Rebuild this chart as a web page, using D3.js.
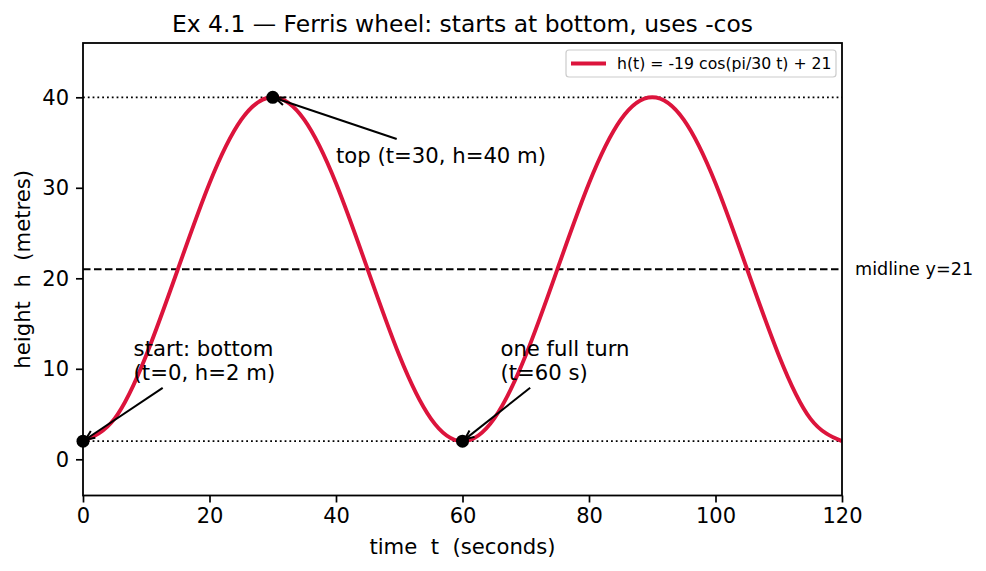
<!DOCTYPE html>
<html>
<head>
<meta charset="utf-8">
<script src="https://cdn.jsdelivr.net/npm/d3@7"></script>
<style>
  body { margin: 0; background: #fff; }
  svg text { font-family: "DejaVu Sans", sans-serif; fill: #000; white-space: pre; }
</style>
</head>
<body>
<svg id="chart" width="986" height="571"></svg>
<script>
// values, every 5 seconds
var times = [0,5,10,15,20,25,30,35,40,45,50,55,60,65,70,75,80,85,90,95,100,105,110,115,120];
var heights = [2,4.5,11.5,21,30.5,37.5,40,37.5,30.5,21,11.5,4.5,2,4.5,11.5,21,30.5,37.5,40,37.5,30.5,21,11.5,4.5,2];
var xTicks = [0,20,40,60,80,100,120];
var yTicks = [0,10,20,30,40];
var keyPoints = [[0,2],[30,40],[60,2]];
var refLines = [40, 2];
var midline = 21;
var notes = [
  {lines: ["top (t=30, h=40 m)"], text: [40,33], tail: [49.6,35.4], head: [30,40]},
  {lines: ["start: bottom", "(t=0, h=2 m)"], text: [8,9], tail: [12.6,7.9], head: [0,2]},
  {lines: ["one full turn", "(t=60 s)"], text: [66,9], tail: [70.7,7.9], head: [60,2]}
];

var svg = d3.select("#chart");
var pLeft = 83, pRight = 842, pTop = 43, pBottom = 495.5;

var x = d3.scaleLinear().domain([0,120]).range([pLeft,pRight]);
var y = d3.scaleLinear().domain([-4,46]).range([pBottom,pTop]);

svg.append("clipPath").attr("id","clip")
    .append("rect").attr("x",pLeft).attr("y",pTop).attr("width",pRight-pLeft).attr("height",pBottom-pTop);

var plot = svg.append("g").attr("clip-path","url(#clip)");

// dotted reference lines at top and bottom
plot.selectAll(".ref").data(refLines).enter().append("line")
    .attr("x1",x(0)).attr("x2",x(120))
    .attr("y1",function(d){return y(d);}).attr("y2",function(d){return y(d);})
    .attr("stroke","#000").attr("stroke-width",1.8).attr("stroke-dasharray","1.8,3");

//midline
plot.append("line")
    .attr("x1",x(0)).attr("x2",x(120))
    .attr("y1",y(midline)).attr("y2",y(midline))
    .attr("stroke","#000").attr("stroke-width",2).attr("stroke-dasharray","7.5,3.5");

var line = d3.line()
    .x(function(d,i){return x(times[i]);})
    .y(function(d){return y(d);})
    .curve(d3.curveNatural);

plot.append("path").datum(heights)
    .attr("d",line)
    .attr("fill","none").attr("stroke","#dc143c").attr("stroke-width",3.9);

//markers
svg.selectAll(".pt").data(keyPoints).enter().append("circle")
    .attr("cx",function(d){return x(d[0]);}).attr("cy",function(d){return y(d[1]);})
    .attr("r",6.5).attr("fill","#000");

// annotations, arrow drawn as open "->" head
notes.forEach(function(n){
    var x0 = x(n.tail[0]), y0 = y(n.tail[1]);
    var ang = Math.atan2(y(n.head[1])-y0, x(n.head[0])-x0);
    var x1 = x(n.head[0]) - 3*Math.cos(ang), y1 = y(n.head[1]) - 3*Math.sin(ang);
    svg.append("line").attr("x1",x0).attr("y1",y0).attr("x2",x1).attr("y2",y1)
        .attr("stroke","#000").attr("stroke-width",2);
    var hl = 10, spread = 0.42;
    var pts = [
        [x1 - hl*Math.cos(ang-spread), y1 - hl*Math.sin(ang-spread)],
        [x1, y1],
        [x1 - hl*Math.cos(ang+spread), y1 - hl*Math.sin(ang+spread)]
    ];
    svg.append("path").attr("d",d3.line()(pts))
        .attr("fill","none").attr("stroke","#000").attr("stroke-width",2);
    var t = svg.append("text").attr("font-size",21.2);
    var nl = n.lines.length;
    n.lines.forEach(function(s,i){
        t.append("tspan").attr("x",x(n.text[0]))
            .attr("y",y(n.text[1]) + 2 - (nl-1-i)*24)
            .text(s);
    });
});

// axes
var xAxis = d3.axisBottom(x).tickValues(xTicks).tickSize(7).tickPadding(6);
var yAxis = d3.axisLeft(y).tickValues(yTicks).tickSize(7).tickPadding(7);

var gx = svg.append("g").attr("transform","translate(0,"+pBottom+")").call(xAxis);
var gy = svg.append("g").attr("transform","translate("+pLeft+",0)").call(yAxis);
[gx,gy].forEach(function(g){
    g.select(".domain").remove();
    g.selectAll(".tick line").attr("stroke","#000").attr("stroke-width",1.7);
    g.selectAll(".tick text").attr("font-size",21).attr("font-family","DejaVu Sans").attr("fill","#000");
});

// frame
svg.append("rect").attr("x",pLeft).attr("y",pTop).attr("width",pRight-pLeft).attr("height",pBottom-pTop)
    .attr("fill","none").attr("stroke","#000").attr("stroke-width",1.8);

// legend
var lg = svg.append("g");
lg.append("rect").attr("x",566).attr("y",50).attr("width",270).attr("height",27).attr("rx",3)
    .attr("fill","#fff").attr("fill-opacity",0.8).attr("stroke","#ccc").attr("stroke-width",1.2);
lg.append("line").attr("x1",571).attr("x2",606).attr("y1",63.5).attr("y2",63.5)
    .attr("stroke","#dc143c").attr("stroke-width",3.9);
lg.append("text").attr("x",617).attr("y",69).attr("font-size",15.7)
    .text("h(t) = -19 cos(pi/30 t) + 21");

svg.append("text").attr("x",855).attr("y",y(midline)+6).attr("font-size",17.6)
    .text("midline y=21");

// titles
svg.append("text").attr("x",(pLeft+pRight)/2).attr("y",32).attr("text-anchor","middle")
    .attr("font-size",23.4).text("Ex 4.1 \u2014 Ferris wheel: starts at bottom, uses -cos");
svg.append("text").attr("x",(pLeft+pRight)/2).attr("y",554).attr("text-anchor","middle")
    .attr("font-size",21.2).text("time  t  (seconds)");
svg.append("text").attr("transform","translate(30,"+((pTop+pBottom)/2)+") rotate(-90)")
    .attr("text-anchor","middle").attr("font-size",21.2).text("height  h  (metres)");
</script>
</body>
</html>
